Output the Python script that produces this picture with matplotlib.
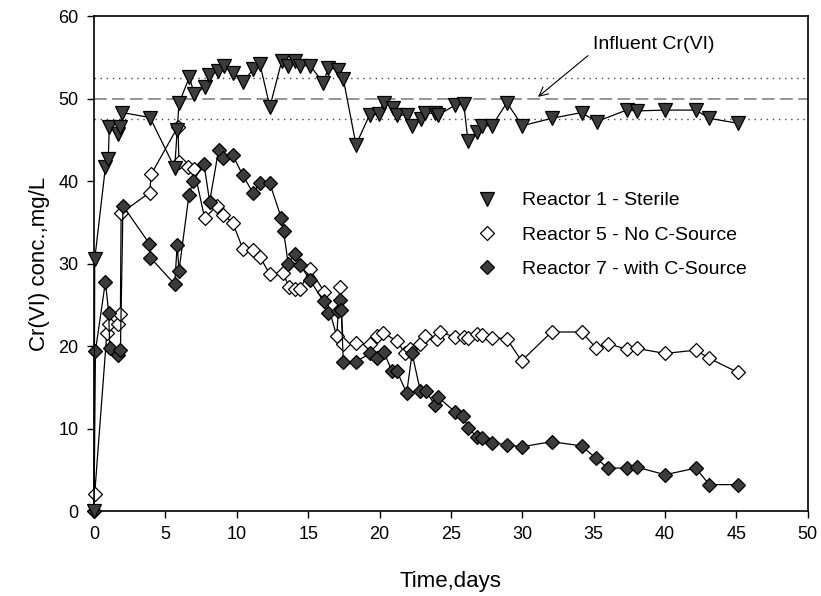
import matplotlib
matplotlib.use("Agg")
import matplotlib.pyplot as plt
from matplotlib.lines import Line2D

plt.rcParams['font.family'] = ['Liberation Sans', 'DejaVu Sans']

# Reactor 1 - Sterile
r1_days = [0, 0.05, 0.8, 1.0, 1.07, 1.7, 1.83, 1.98, 3.92, 5.65, 5.83, 5.95,
           6.68, 7.03, 7.77, 8.07, 8.7, 9.1, 9.71, 10.46, 11.16, 11.62, 12.32,
           13.14, 13.6, 14.08, 14.43, 15.13, 16.06, 16.41, 17.11, 17.46, 18.35,
           19.3, 19.93, 20.28, 20.93, 21.2, 21.9, 22.25, 22.92, 23.2, 23.9, 24.1,
           25.3, 25.9, 26.2, 26.8, 27.15, 27.88, 28.92, 30.0, 32.05, 34.15,
           35.2, 37.3, 38.05, 40.0, 42.15, 43.1, 45.1]
r1_conc = [0, 30.5, 41.7, 42.7, 46.5, 45.7, 46.6, 48.3, 47.7, 41.6, 46.2, 49.4,
           52.6, 50.5, 51.4, 52.8, 53.3, 53.9, 53.1, 52.0, 53.6, 54.2, 49.0,
           54.5, 53.9, 54.5, 53.9, 54.0, 51.9, 53.7, 53.5, 52.4, 44.4,
           48.0, 48.1, 49.5, 48.9, 48.0, 48.0, 46.7, 47.5, 48.2, 48.2, 48.0,
           49.2, 49.3, 44.8, 46.0, 46.7, 46.7, 49.5, 46.7, 47.6, 48.3,
           47.2, 48.6, 48.5, 48.6, 48.6, 47.6, 47.0]

# Reactor 5 - No C-Source
r5_days = [0.05, 0.9, 1.05, 1.7, 1.85, 1.9, 3.9, 4.0, 5.88, 5.95, 6.6, 7.0,
           7.75, 8.6, 9.06, 9.72, 10.42, 11.16, 11.63, 12.31, 13.23, 13.65,
           14.07, 14.45, 15.12, 16.12, 17.0, 17.22, 17.46, 18.35, 19.35, 19.85,
           20.26, 21.2, 21.8, 22.1, 22.8, 23.2, 24.0, 24.2, 25.3, 25.9, 26.2,
           26.8, 27.15, 27.85, 28.9, 29.95, 32.05, 34.15, 35.15, 36.0, 37.3,
           38.05, 40.0, 42.15, 43.1, 45.1]
r5_conc = [2.1, 21.6, 22.7, 22.7, 23.9, 36.1, 38.6, 40.8, 46.6, 42.3, 41.7, 41.5,
           35.5, 37.0, 35.9, 34.9, 31.8, 31.6, 30.8, 28.7, 28.9, 27.2,
           26.9, 26.9, 29.3, 26.6, 21.2, 27.1, 20.2, 20.4, 20.2, 21.2,
           21.6, 20.6, 19.1, 19.6, 20.3, 21.2, 20.9, 21.7, 21.1, 21.1, 21.0,
           21.5, 21.3, 21.0, 20.9, 18.2, 21.7, 21.7, 19.8, 20.3, 19.6,
           19.7, 19.1, 19.5, 18.5, 16.8]

# Reactor 7 - with C-Source
r7_days = [0, 0.1, 0.8, 1.03, 1.1, 1.68, 1.85, 2.03, 3.88, 3.95, 5.65, 5.83,
           5.95, 6.65, 6.95, 7.7, 8.1, 8.73, 9.05, 9.73, 10.42, 11.16, 11.6,
           12.32, 13.12, 13.28, 13.6, 14.07, 14.45, 15.13, 16.08, 16.37, 17.1,
           17.22, 17.32, 17.46, 18.35, 19.33, 19.85, 20.3, 20.85, 21.2, 21.9,
           22.28, 22.85, 23.25, 23.9, 24.1, 25.3, 25.85, 26.2, 26.8, 27.15,
           27.9, 28.95, 30.0, 32.05, 34.15, 35.15, 36.0, 37.3, 38.05, 40.0,
           42.15, 43.1, 45.1]
r7_conc = [0, 19.4, 27.8, 24.0, 19.8, 18.9, 19.5, 37.0, 32.4, 30.7, 27.5, 32.3,
           29.1, 38.3, 40.0, 42.1, 37.5, 43.8, 42.8, 43.1, 40.7, 38.5, 39.8,
           39.7, 35.5, 33.9, 30.0, 31.2, 29.8, 28.0, 25.4, 24.0, 24.2,
           25.6, 24.4, 18.1, 18.1, 19.1, 18.6, 19.3, 17.0, 17.0, 14.3,
           19.1, 14.6, 14.5, 12.8, 13.8, 12.0, 11.5, 10.1, 9.0, 8.8,
           8.3, 8.0, 7.8, 8.4, 7.9, 6.4, 5.2, 5.2, 5.3, 4.4,
           5.2, 3.2, 3.2]

influent = 50.0
influent_band = [47.5, 52.5]
legend_labels = ['Reactor 1 - Sterile', 'Reactor 5 - No C-Source',
                 'Reactor 7 - with C-Source']

dark = '#3c3c3c'
fig = plt.figure(figsize=(8.21, 5.96), dpi=100)
ax = fig.add_axes([0.1145, 0.1426, 0.8695, 0.8305])

ax.axhline(influent, color='#8c8c8c', lw=1.3, ls=(0, (7, 3)), zorder=1)
for yb in influent_band:
    ax.axhline(yb, color='#444444', lw=1.0, ls=(0, (1, 3.4)), zorder=1)

s5 = dict(marker='D', ms=7.2, mfc='white', mec='black', mew=0.9)
s7 = dict(marker='D', ms=7.2, mfc=dark, mec='black', mew=0.9)
s1 = dict(marker='v', ms=9.5, mfc=dark, mec='black', mew=0.9)

ax.plot(r5_days, r5_conc, color='black', lw=0.9, clip_on=False, zorder=3, **s5)
ax.plot(r7_days, r7_conc, color='black', lw=0.9, clip_on=False, zorder=4, **s7)
ax.plot(r1_days, r1_conc, color='black', lw=0.9, clip_on=False, zorder=5, **s1)

handles = [Line2D([], [], ls='none', **s1),
           Line2D([], [], ls='none', **s5),
           Line2D([], [], ls='none', **s7)]
ax.legend(handles, legend_labels, loc='center left',
          bbox_to_anchor=(0.537, 0.558), frameon=False, fontsize=14,
          handlelength=1.0, handletextpad=1.3, labelspacing=0.85,
          borderpad=0, borderaxespad=0)

ax.annotate('', xy=(31.1, 50.2), xytext=(34.6, 55.2),
            arrowprops=dict(arrowstyle='->', lw=0.8, color='black',
                            shrinkA=0, shrinkB=0, mutation_scale=16))
ax.text(34.95, 56.5, 'Influent Cr(VI)', fontsize=14, ha='left', va='center')

ax.set_xlim(0, 50)
ax.set_ylim(0, 60)
ax.set_xticks(range(0, 51, 5))
ax.set_yticks(range(0, 61, 10))
ax.tick_params(direction='out', length=5, width=1.0, labelsize=13, pad=6,
               top=False, right=False)
for sp in ax.spines.values():
    sp.set_linewidth(1.2)

ax.set_xlabel('Time,days', fontsize=16, labelpad=20)
ax.set_ylabel('Cr(VI) conc.,mg/L', fontsize=16, labelpad=6)

fig.savefig('out.png', dpi=100)
